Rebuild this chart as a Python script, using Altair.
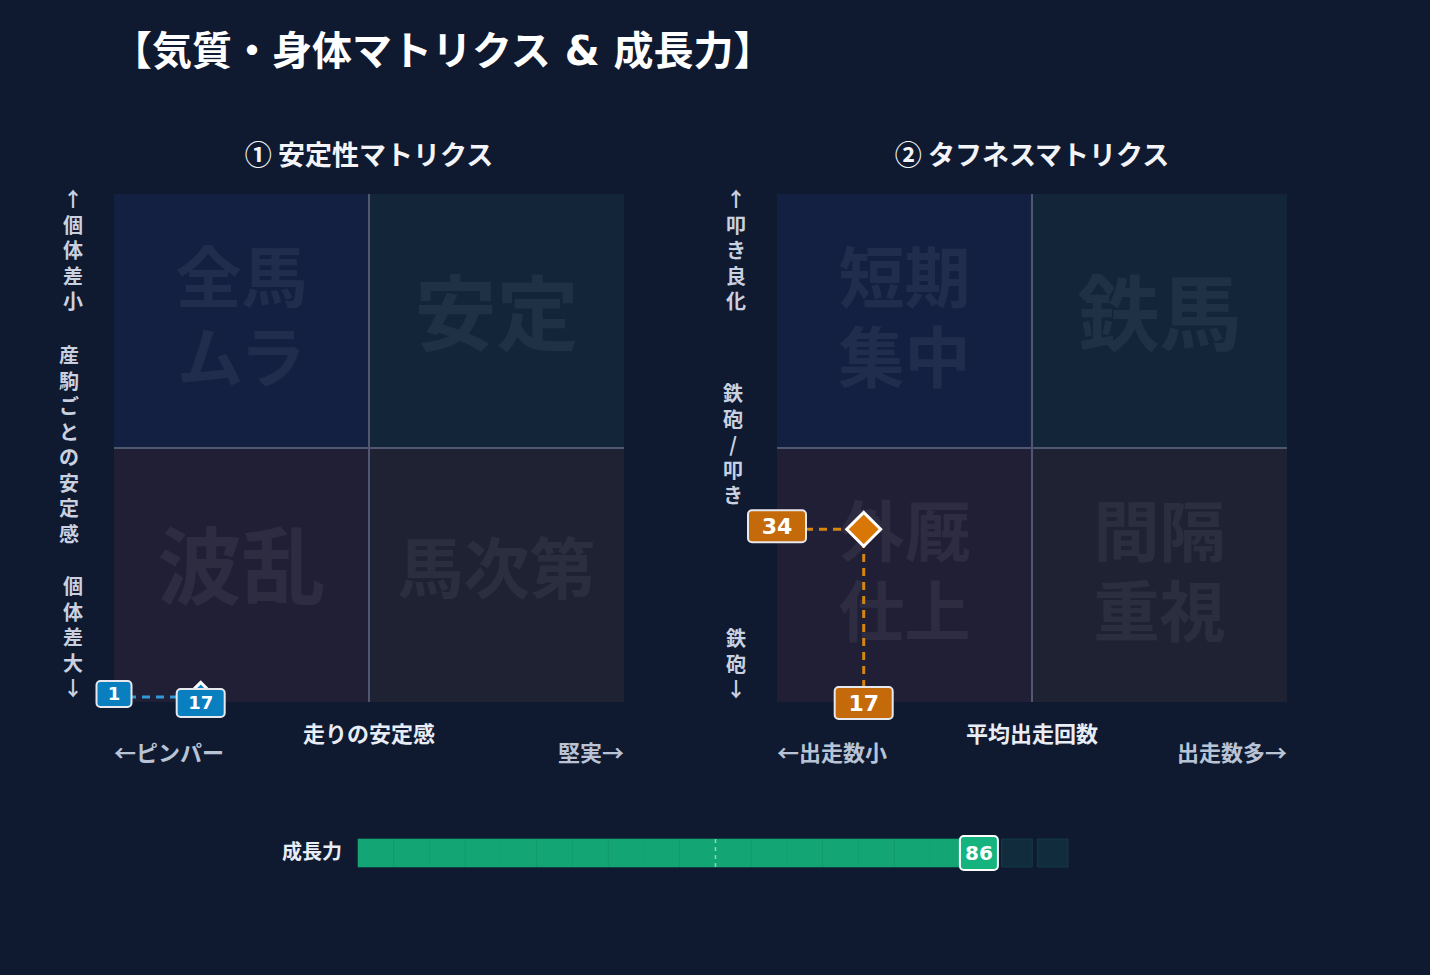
import altair as alt
import pandas as pd

# ---------------- data ----------------
TITLE = "【気質・身体マトリクス & 成長力】"

P1_TITLE = "① 安定性マトリクス"
P1_QUADS = ["全馬\nムラ", "安定", "波乱", "馬次第"]
P1_Y_LABELS = ["↑個体差小", "産駒ごとの安定感", "個体差大↓"]
P1_X_LABELS = ["←ピンパー", "走りの安定感", "堅実→"]
P1_X = [17]
P1_Y = [1]

P2_TITLE = "② タフネスマトリクス"
P2_QUADS = ["短期\n集中", "鉄馬", "外厩\n仕上", "間隔\n重視"]
P2_Y_LABELS = ["↑叩き良化", "鉄砲/叩き", "鉄砲↓"]
P2_X_LABELS = ["←出走数小", "平均出走回数", "出走数多→"]
P2_X = [17]
P2_Y = [34]

GROWTH_LABEL = "成長力"
GROWTH = [86]

QUAD_X0 = [0, 50, 0, 50]
QUAD_X1 = [50, 100, 50, 100]
QUAD_Y0 = [50, 50, 0, 0]
QUAD_Y1 = [100, 100, 50, 50]

# ---------------- style ----------------
BG = "#0f1a30"
CJK = "Noto Sans CJK JP"
LAT = "DejaVu Sans, Noto Sans CJK JP"
NUM = "DejaVu Sans"
QUAD_COLORS = ["#132041", "#122539", "#211f36", "#1e2233"]
W, H = 510, 508

XS = alt.Scale(domain=[0, 100], nice=False, zero=False)
YS = alt.Scale(domain=[0, 100], nice=False, zero=False)


def X(f):
    return alt.X(f"{f}:Q", scale=XS, axis=None)


def Y(f):
    return alt.Y(f"{f}:Q", scale=YS, axis=None)


ONE = pd.DataFrame({"k": [0]})


def vert(s):
    return "\n".join(list(s))


def panel(title, quads, wm_sizes, ylabels, ylab_pos, xlabels, px, py,
          diamond_fill, box_fill, line_color, ybox, xbox, box_fs, diamond_size,
          with_bg):
    layers = []
    if with_bg:
        layers.append(
            alt.Chart(ONE).mark_rect(color=BG).encode(
                x=alt.value(-114), x2=alt.value(1316),
                y=alt.value(-194), y2=alt.value(781))
        )
        layers.append(
            alt.Chart(ONE).mark_text(
                text=TITLE, font=LAT, fontWeight="bold", fontSize=40,
                color="#ffffff", align="left", baseline="middle"
            ).encode(x=alt.value(-2), y=alt.value(-141))
        )
    qdf = pd.DataFrame({
        "x0": QUAD_X0, "x1": QUAD_X1, "y0": QUAD_Y0, "y1": QUAD_Y1,
        "label": quads, "fill": QUAD_COLORS, "fs": wm_sizes,
    })
    qdf["cx"] = (qdf["x0"] + qdf["x1"]) / 2
    qdf["cy"] = (qdf["y0"] + qdf["y1"]) / 2
    layers.append(
        alt.Chart(qdf).mark_rect().encode(
            x=X("x0"), x2="x1", y=Y("y0"), y2="y1",
            color=alt.Color("fill:N", scale=None))
    )
    mid = pd.DataFrame({"m": [50]})
    layers.append(
        alt.Chart(mid).mark_rule(color="#4f5771", strokeWidth=2).encode(
            x=X("m"), y=alt.value(0), y2=alt.value(H))
    )
    layers.append(
        alt.Chart(mid).mark_rule(color="#4f5771", strokeWidth=2).encode(
            y=Y("m"), x=alt.value(0), x2=alt.value(W))
    )
    one_line = qdf[~qdf["label"].str.contains("\n")]
    two_line = qdf[qdf["label"].str.contains("\n")]
    for sub, dy in ((one_line, -2), (two_line, -39)):
        if len(sub):
            layers.append(
                alt.Chart(sub).mark_text(
                    font=CJK, fontWeight="bold", color="#ffffff", opacity=0.055,
                    lineBreak="\n", lineHeight=80, baseline="middle",
                    align="center", dy=dy
                ).encode(x=X("cx"), y=Y("cy"), text="label:N",
                         size=alt.Size("fs:Q", scale=None))
            )
    # panel title
    layers.append(
        alt.Chart(ONE).mark_text(
            text=title, font=CJK, fontWeight="bold", fontSize=27,
            color="#f2f4f8", align="center", baseline="middle"
        ).encode(x=alt.value(W / 2), y=alt.value(-37))
    )
    # vertical axis texts (first line position)
    for lab, (dx, y0) in zip(ylabels, ylab_pos):
        layers.append(
            alt.Chart(ONE).mark_text(
                text=vert(lab), font=CJK, fontWeight="bold", fontSize=20,
                color="#c9d1e0", align="center", baseline="middle",
                lineBreak="\n", lineHeight=25.5
            ).encode(x=alt.value(dx), y=alt.value(y0))
        )
    # horizontal axis texts
    left_t, center_t, right_t = xlabels
    layers.append(
        alt.Chart(ONE).mark_text(
            text=center_t, font=CJK, fontWeight="bold", fontSize=22,
            color="#e8edf5", align="center", baseline="middle"
        ).encode(x=alt.value(W / 2), y=alt.value(541))
    )
    layers.append(
        alt.Chart(ONE).mark_text(
            text=left_t, font=CJK, fontWeight="bold", fontSize=22,
            color="#b9c3d6", align="left", baseline="middle"
        ).encode(x=alt.value(0), y=alt.value(560))
    )
    layers.append(
        alt.Chart(ONE).mark_text(
            text=right_t, font=CJK, fontWeight="bold", fontSize=22,
            color="#b9c3d6", align="right", baseline="middle"
        ).encode(x=alt.value(W), y=alt.value(560))
    )
    # point & guides
    pdf = pd.DataFrame({"x": px, "y": py})
    pdf["zero"] = 0
    pdf["lx"] = pdf["x"].astype(str)
    pdf["ly"] = pdf["y"].astype(str)
    layers.append(
        alt.Chart(pdf).mark_rule(color=line_color, strokeWidth=3,
                                 strokeDash=[8, 6]).encode(
            x=X("zero"), x2="x", y=Y("y"))
    )
    layers.append(
        alt.Chart(pdf).mark_rule(color=line_color, strokeWidth=3,
                                 strokeDash=[8, 6]).encode(
            x=X("x"), y=Y("zero"), y2="y")
    )
    layers.append(
        alt.Chart(pdf).mark_point(
            shape="diamond", filled=True, fill=diamond_fill, size=diamond_size,
            stroke="#ffffff", strokeWidth=3, opacity=1, fillOpacity=1
        ).encode(x=X("x"), y=Y("y"))
    )
    bw, bh = ybox
    layers.append(
        alt.Chart(pdf).mark_rect(
            fill=box_fill, stroke="#e6e8ee", strokeWidth=2, cornerRadius=4,
            xOffset=-bw / 2, x2Offset=bw / 2, yOffset=-bh / 2 - 3, y2Offset=bh / 2 - 3
        ).encode(x=X("zero"), x2="zero", y=Y("y"), y2="y")
    )
    layers.append(
        alt.Chart(pdf).mark_text(
            font=NUM, fontWeight="bold", fontSize=box_fs, color="#ffffff",
            align="center", baseline="middle", dy=-2
        ).encode(x=X("zero"), y=Y("y"), text="ly:N")
    )
    bw, bh = xbox
    layers.append(
        alt.Chart(pdf).mark_rect(
            fill=box_fill, stroke="#e6e8ee", strokeWidth=2, cornerRadius=4,
            xOffset=-bw / 2, x2Offset=bw / 2, yOffset=-bh / 2 + 1, y2Offset=bh / 2 + 1
        ).encode(x=X("x"), x2="x", y=Y("zero"), y2="zero")
    )
    layers.append(
        alt.Chart(pdf).mark_text(
            font=NUM, fontWeight="bold", fontSize=box_fs, color="#ffffff",
            align="center", baseline="middle", dy=2
        ).encode(x=X("x"), y=Y("zero"), text="lx:N")
    )
    return alt.layer(*layers)


# ---------------- growth bar (drawn under the left panel) ----------------
G = GROWTH[0]
XG = alt.Scale(domain=[0, 100], range=[244, 959], nice=False, zero=False)
starts = list(range(0, 100, 5))
green = pd.DataFrame({"x0": [s for s in starts if s < G],
                      "x1": [min(s + 5, G) for s in starts if s < G]})
dark = pd.DataFrame({"x0": [max(s, G) for s in starts if s + 5 > G],
                     "x1": [s + 5 for s in starts if s + 5 > G]})
gdf = pd.DataFrame({"v": GROWTH})
gdf["lab"] = gdf["v"].astype(str)
BT, BB = 645, 673

glayers = [
    alt.Chart(dark).mark_rect(fill="#112d3d", stroke="#15394a", strokeWidth=1,
                              x2Offset=-5).encode(
        x=alt.X("x0:Q", scale=XG, axis=None), x2="x1",
        y=alt.value(BT), y2=alt.value(BB)),
    alt.Chart(green).mark_rect(fill="#13a574", stroke="#12a272", strokeWidth=0.6).encode(
        x=alt.X("x0:Q", scale=XG, axis=None), x2="x1",
        y=alt.value(BT), y2=alt.value(BB)),
    alt.Chart(pd.DataFrame({"m": [50]})).mark_rule(
        color="#ffffff", opacity=0.55, strokeDash=[4, 4], strokeWidth=1.5).encode(
        x=alt.X("m:Q", scale=XG, axis=None), y=alt.value(BT), y2=alt.value(BB)),
    alt.Chart(ONE).mark_text(
        text=GROWTH_LABEL, font=CJK, fontWeight="bold", fontSize=20,
        color="#e8ecf4", align="right", baseline="middle").encode(
        x=alt.value(228), y=alt.value((BT + BB) / 2)),
    alt.Chart(gdf).mark_rect(
        fill="#15b47f", stroke="#ffffff", strokeWidth=2, cornerRadius=4,
        xOffset=-19 + 6, x2Offset=19 + 6).encode(
        x=alt.X("v:Q", scale=XG, axis=None), x2="v",
        y=alt.value(BT - 3), y2=alt.value(BB + 3)),
    alt.Chart(gdf).mark_text(
        font=NUM, fontWeight="bold", fontSize=20, color="#ffffff",
        align="center", baseline="middle", dx=6, dy=1).encode(
        x=alt.X("v:Q", scale=XG, axis=None), y=alt.value((BT + BB) / 2),
        text="lab:N"),
]

left_panel = panel(P1_TITLE, P1_QUADS, [66, 82, 84, 66], P1_Y_LABELS,
                   [(-41, 7), (-45, 163), (-41, 394)], P1_X_LABELS, P1_X, P1_Y,
                   "#0a84c8", "#0a7fc0", "#2f9ad8", (35, 26), (48, 28), 18, 850,
                   True)
left = alt.layer(left_panel, alt.layer(*glayers)).resolve_scale(
    x="independent").properties(width=W, height=H)

right = panel(P2_TITLE, P2_QUADS, [66, 82, 66, 66], P2_Y_LABELS,
              [(-41, 7), (-44, 201), (-41, 446)], P2_X_LABELS, P2_X, P2_Y,
              "#d97706", "#c46a0a", "#d4860f", (58, 32), (58, 32), 22, 1150,
              False).properties(width=W, height=H)

chart = alt.hconcat(left, right, spacing=153, bounds="flush").properties(
    padding=0, background=BG).configure_view(strokeWidth=0)

chart.save("out.html", embed_options={"renderer": "svg", "actions": False})
